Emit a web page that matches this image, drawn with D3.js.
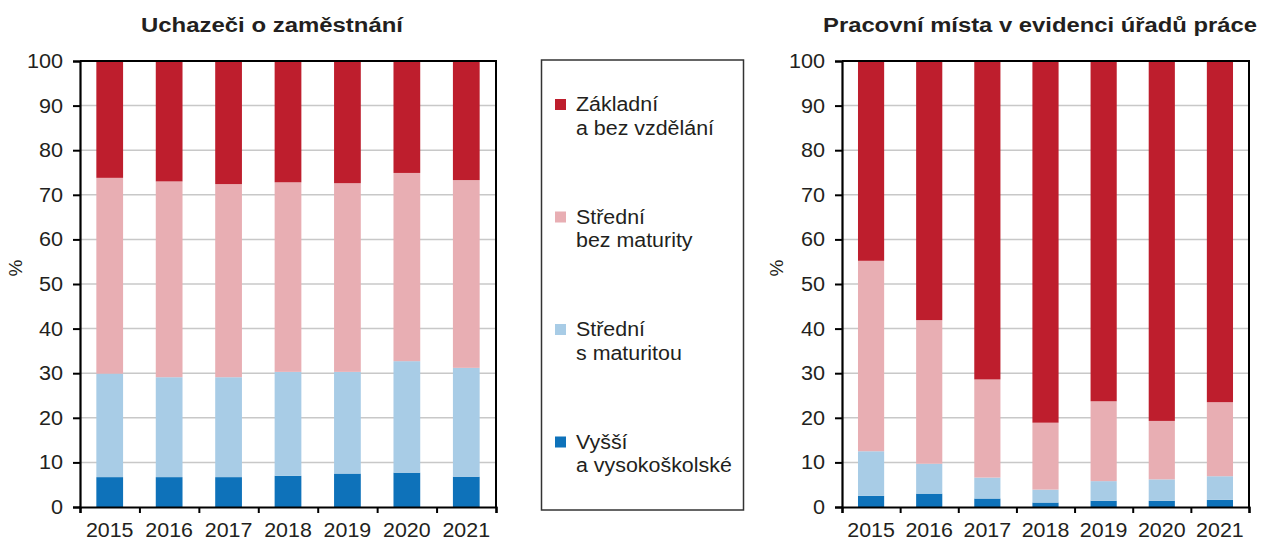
<!DOCTYPE html>
<html><head><meta charset="utf-8">
<script src="https://cdn.jsdelivr.net/npm/d3@7"></script>
<style>
body{margin:0;background:#fff;}
text{font-family:"Liberation Sans",Arial,sans-serif;fill:#231F20;}
</style></head>
<body>
<svg id="c" width="1261" height="541"></svg>
<script>
const years = ["2015","2016","2017","2018","2019","2020","2021"];
const seriesNames = ["Vyšší\na vysokoškolské","Střední\ns maturitou","Střední\nbez maturity","Základní\na bez vzdělání"];
const seriesKeys = ["vys","smat","bezmat","zakl"];
const colors = ["#0E72BA","#A8CCE6","#E8AEB3","#BE1E2D"];
const yTicks = [0,10,20,30,40,50,60,70,80,90,100];

// Uchazeči o zaměstnání
const uchVys    = [6.7,6.7,6.7,7.0,7.5,7.7,6.8];
const uchSmat   = [23.2,22.4,22.4,23.3,22.8,25.0,24.4];
const uchBezmat = [43.9,43.9,43.3,42.5,42.3,42.2,42.1];
const uchZakl   = [26.2,27.0,27.6,27.2,27.4,25.1,26.7];

// Pracovní místa v evidenci úřadů práce
const pmVys    = [2.5,3.0,1.9,1.0,1.4,1.4,1.6];
const pmSmat   = [10.0,6.7,4.7,2.9,4.4,4.8,5.3];
const pmBezmat = [42.7,32.2,22.0,15.0,17.9,13.1,16.6];
const pmZakl   = [44.8,58.1,71.4,81.1,76.3,80.7,76.5];

const svg = d3.select("#c");

function stretch(sel,k){
  sel.each(function(){
    const L = this.getComputedTextLength();
    d3.select(this).attr("textLength",L*k).attr("lengthAdjust","spacingAndGlyphs");
  });
}

function rows(arrs){
  return years.map((y,i)=>{const o={year:y}; seriesKeys.forEach((k,j)=>o[k]=arrs[j][i]); return o;});
}

function drawChart(opt){
  const {x0,x1,y0,y1,title,titleX,titleW,data,pctX} = opt;
  const g = svg.append("g");
  const x = d3.scaleBand().domain(years).range([x0,x1]).paddingInner(0.55).paddingOuter(0.275);
  const y = d3.scaleLinear().domain([0,100]).range([y1,y0]);
  // grid
  g.append("g").selectAll("line").data(yTicks.filter(t=>t>0&&t<100)).join("line")
    .attr("x1",x0).attr("x2",x1).attr("y1",d=>y(d)).attr("y2",d=>y(d))
    .attr("stroke","#c8c8c8").attr("stroke-width",1.5);
  // bars
  const stack = d3.stack().keys(seriesKeys)(data);
  g.append("g").selectAll("g").data(stack).join("g").attr("fill",(d,i)=>colors[i])
    .selectAll("rect").data(d=>d).join("rect")
    .attr("x",d=>x(d.data.year)).attr("width",x.bandwidth())
    .attr("y",d=>y(d[1])).attr("height",d=>y(d[0])-y(d[1]));
  // frame top/right
  g.append("path").attr("d",`M${x0},${y0}H${x1}V${y1}`).attr("fill","none").attr("stroke","#000").attr("stroke-width",2);
  // y axis
  const ya = g.append("g").attr("transform",`translate(${x0},0)`)
    .call(d3.axisLeft(y).tickValues(yTicks).tickSize(7).tickPadding(10));
  ya.select(".domain").attr("stroke","#000").attr("stroke-width",2.2);
  ya.selectAll(".tick line").attr("stroke","#000").attr("stroke-width",2);
  ya.selectAll("text").attr("font-size",20).style("fill","#231F20").attr("font-family","Liberation Sans, Arial, sans-serif");
  stretch(ya.selectAll("text"),1.08);
  // x axis
  const xb = d3.scaleLinear().domain([0,years.length]).range([x0,x1]);
  const xa = g.append("g").attr("transform",`translate(0,${y1})`)
    .call(d3.axisBottom(xb).tickValues(d3.range(0,years.length+1)).tickSize(6).tickFormat(""));
  xa.select(".domain").attr("stroke","#000").attr("stroke-width",2.2);
  xa.selectAll(".tick line").attr("stroke","#000").attr("stroke-width",2);
  const xl = g.append("g").selectAll("text").data(years).join("text")
    .attr("x",d=>x(d)+x.bandwidth()/2).attr("y",y1+30).attr("text-anchor","middle")
    .attr("font-size",20).text(d=>d);
  stretch(xl,1.07);
  // title
  g.append("text").attr("x",titleX).attr("y",32).attr("text-anchor","middle")
    .attr("font-size",20).attr("font-weight","bold")
    .attr("textLength",titleW).attr("lengthAdjust","spacingAndGlyphs").text(title);
  // % label
  g.append("text").attr("transform",`translate(${pctX},${y(50)-16}) rotate(-90)`)
    .attr("text-anchor","middle").attr("font-size",19).text("%");
}

drawChart({x0:80,x1:496,y0:61,y1:507,title:"Uchazeči o zaměstnání",titleX:272,titleW:262,
  data:rows([uchVys,uchSmat,uchBezmat,uchZakl]),pctX:22});
drawChart({x0:842,x1:1249,y0:61,y1:507,title:"Pracovní místa v evidenci úřadů práce",titleX:1040,titleW:434,
  data:rows([pmVys,pmSmat,pmBezmat,pmZakl]),pctX:783});

// legend
const lg = svg.append("g");
lg.append("rect").attr("x",541.5).attr("y",60).attr("width",202).attr("height",450)
  .attr("fill","none").attr("stroke","#333").attr("stroke-width",1.5);
const legendOrder = [3,2,1,0];
legendOrder.forEach((si,k)=>{
  const top = 99 + k*112.5;
  lg.append("rect").attr("x",555).attr("y",top).attr("width",11).attr("height",11).attr("fill",colors[si]);
  const lines = seriesNames[si].split("\n");
  lines.forEach((ln,j)=>{
    const t = lg.append("text").attr("x",576).attr("y",top+12+j*23.5).attr("font-size",20).text(ln);
    stretch(t,1.07);
  });
});
</script>
</body></html>
